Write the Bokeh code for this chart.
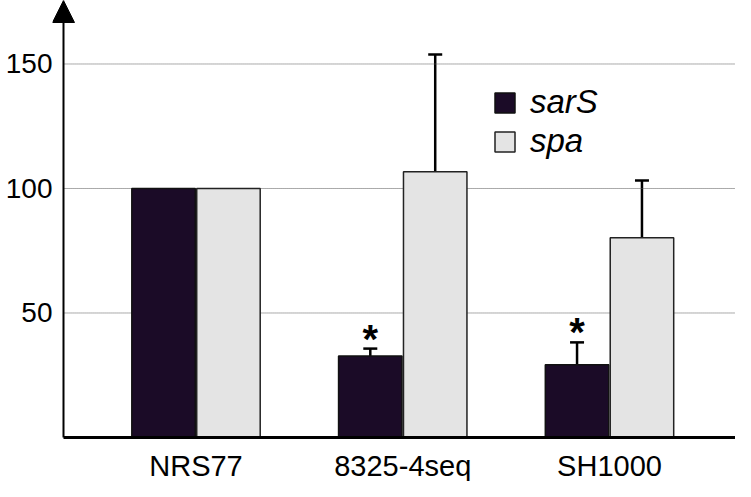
from bokeh.plotting import figure
from bokeh.models import (ColumnDataSource, Range1d, FixedTicker, Whisker, TeeHead,
                          Arrow, NormalHead, Legend, LegendItem)
from bokeh.core.properties import value
from bokeh.embed import file_html
from bokeh.resources import INLINE

strains = ["NRS77", "8325-4seq", "SH1000"]
sarS = [100, 32.7, 29.2]
sarS_err_top = [100, 35.7, 38.2]
spa = [100, 106.7, 80.2]
spa_err_top = [100, 153.8, 103.2]
significant = [False, True, True]
y_ticks = [50, 100, 150]

DARK = "#1b0b27"
LIGHT = "#e4e4e4"
FONT = "Liberation Sans"

pos = [i + 1 for i in range(len(strains))]
off = 0.157
bw = 0.307
X0, X1 = 0.3059, 3.6094
AXIS_X = 0.3591
GRID_END = 3.6046
Y0, Y1 = -17.67, 175.5

p = figure(width=735, height=481, output_backend="svg", toolbar_location=None,
           x_range=Range1d(X0, X1), y_range=Range1d(Y0, Y1),
           min_border_left=52, min_border_right=0, min_border_top=0, min_border_bottom=0)
p.outline_line_color = None
p.background_fill_color = "white"
p.border_fill_color = "white"

# dotted grid lines at the y ticks
p.segment(x0=[AXIS_X] * len(y_ticks), x1=[GRID_END] * len(y_ticks), y0=y_ticks, y1=y_ticks,
          line_color="#555555", line_dash="1 1", line_width=1)

src_s = ColumnDataSource(dict(x=[x - off for x in pos], top=sarS))
src_p = ColumnDataSource(dict(x=[x + off for x in pos], top=spa))

rs = p.vbar(x="x", top="top", width=bw, source=src_s, fill_color=DARK, line_color="#111111", line_width=1.5)
rp = p.vbar(x="x", top="top", width=bw, source=src_p, fill_color=LIGHT, line_color="#222222", line_width=1.5)

# upward error bars (only where there is an error)
for xs, tops, his in ((src_s.data["x"], sarS, sarS_err_top), (src_p.data["x"], spa, spa_err_top)):
    keep = [i for i in range(len(tops)) if his[i] > tops[i]]
    esrc = ColumnDataSource(dict(x=[xs[i] for i in keep], lo=[tops[i] for i in keep],
                                 hi=[his[i] for i in keep]))
    w = Whisker(source=esrc, base="x", lower="lo", upper="hi", dimension="height",
                line_color="black", line_width=2.5, lower_head=None,
                upper_head=TeeHead(size=14, line_width=2.5, line_color="black"))
    p.add_layout(w)

# significance stars
sx = [x - off for x, s in zip(pos, significant) if s]
sy = [h for h, s in zip(sarS_err_top, significant) if s]
p.text(x=sx, y=sy, text=["*"] * len(sx), text_align="center", text_baseline="alphabetic",
       y_offset=-10, text_font=value(FONT), text_font_size="40px", text_font_style="bold",
       text_color="black")

# x axis fixed at zero
p.xaxis.fixed_location = 0
p.xaxis.ticker = FixedTicker(ticks=pos)
p.xaxis.major_label_overrides = {x: s for x, s in zip(pos, strains)}
p.xaxis.major_label_text_font = FONT
p.xaxis.major_label_text_font_size = "29px"
p.xaxis.major_label_text_color = "black"
p.xaxis.major_label_standoff = 12
p.xaxis.major_tick_out = 0
p.xaxis.major_tick_in = 0
p.xaxis.axis_line_width = 3
p.xaxis.axis_line_color = "black"
p.xaxis.bounds = (AXIS_X, X1)
p.xaxis.major_tick_line_color = None
p.xaxis.minor_tick_line_color = None

p.yaxis.ticker = FixedTicker(ticks=y_ticks)
p.yaxis.major_label_text_font = FONT
p.yaxis.major_label_text_font_size = "28px"
p.yaxis.major_label_text_color = "black"
p.yaxis.major_label_standoff = 0
p.yaxis.major_tick_out = 0
p.yaxis.major_tick_in = 0
p.yaxis.axis_line_color = None
p.yaxis.major_tick_line_color = None
p.yaxis.minor_tick_line_color = None

p.xgrid.grid_line_color = None
p.ygrid.grid_line_color = None

# y axis drawn as an arrow
p.add_layout(Arrow(x_start=AXIS_X, y_start=0, x_end=AXIS_X, y_end=Y1,
                   line_color="black", line_width=2,
                   end=NormalHead(size=22, fill_color="black", line_color="black")))

legend = Legend(items=[LegendItem(label="sarS", renderers=[rs]),
                       LegendItem(label="spa", renderers=[rp])],
                location=(440, 321))
legend.margin = 0
legend.padding = 0
legend.spacing = 1
legend.glyph_width = 25
legend.glyph_height = 25
legend.label_height = 25
legend.label_standoff = 13
legend.label_text_font = FONT
legend.label_text_font_size = "33px"
legend.label_text_font_style = "italic"
legend.label_text_color = "black"
legend.border_line_color = None
legend.background_fill_alpha = 0
p.add_layout(legend, "center")

open("out.html", "w").write(file_html(p, INLINE))
